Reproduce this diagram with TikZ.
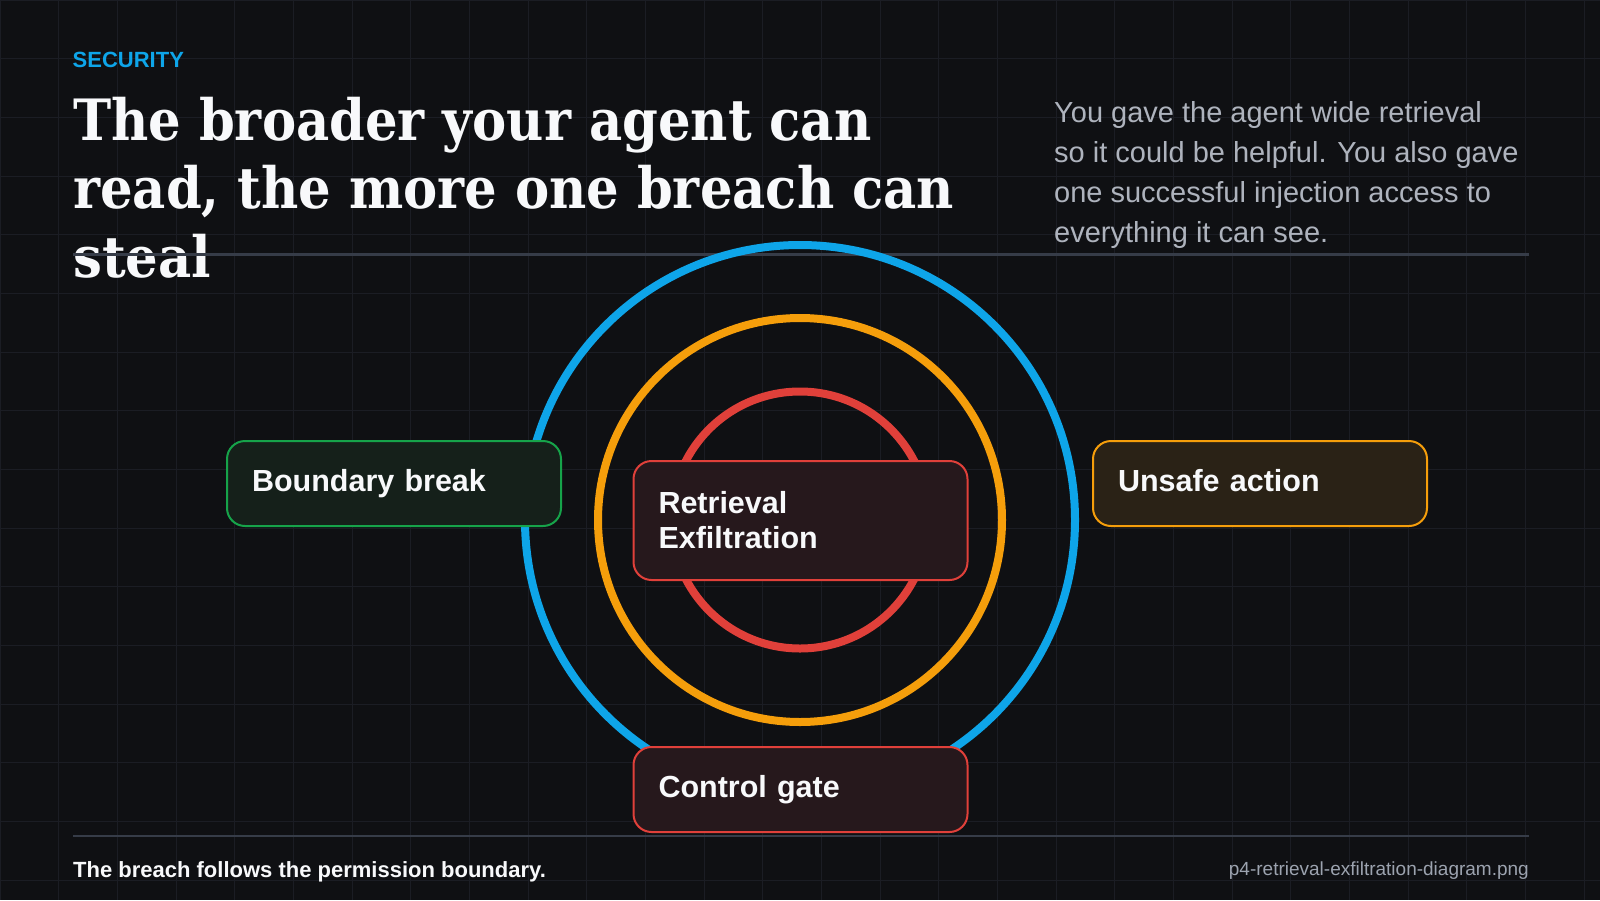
\documentclass[tikz,border=0pt]{standalone}
\usepackage{fontspec}
\setmainfont{Liberation Sans}
\newfontfamily\titlefont[FakeStretch=0.9]{DejaVu Serif}
\usepackage{tikz}
\usetikzlibrary{positioning,calc}

\definecolor{bgdark}{HTML}{0F1013}
\definecolor{gridgray}{HTML}{1B1D24}
\definecolor{rulegray}{HTML}{363C48}
\definecolor{headwhite}{HTML}{F8F9FB}
\definecolor{leadgray}{HTML}{AEB3BD}
\definecolor{notegray}{HTML}{9CA3AF}
\definecolor{skyblue}{HTML}{0EA5E9}
\definecolor{ambr}{HTML}{F59E0B}
\definecolor{alertred}{HTML}{E0403A}
\definecolor{safegreen}{HTML}{16A34A}
\definecolor{greenfill}{HTML}{15201A}
\definecolor{redfill}{HTML}{26181C}
\definecolor{amberfill}{HTML}{2A2216}

\begin{document}
\begin{tikzpicture}[x=1pt, y=-1pt,
    gridline/.style={gridgray, line width=1pt},
    rule/.style={rulegray, line width=2.5pt},
    ring/.style={line width=8pt},
    card/.style={rounded corners=18pt, line width=2pt, minimum width=334pt,
      minimum height=85pt, inner xsep=25pt, inner ysep=4pt, text width=284pt,
      align=left, text depth=6.5pt, text=headwhite,
      font=\bfseries\fontsize{30.5}{34.3}\selectfont}]
    % Background and grid
    \useasboundingbox (0,0) rectangle (1600,900);
    \fill[bgdark] (0,0) rectangle (1600,900);
    \foreach \i in {0,...,27}
        \draw[gridline] ({\i*58.667},0) -- ({\i*58.667},900);
    \foreach \j in {0,...,15}
        \draw[gridline] (0,{\j*58.667}) -- (1600,{\j*58.667});

    % Heading (base = last line)
    \node[anchor=base west, inner sep=0, skyblue, font=\bfseries\fontsize{22}{26}\selectfont]
        (kicker) at (72.5,67) {SECURITY};
    \node[anchor=base west, inner sep=0, align=left, text=headwhite,
        font=\titlefont\bfseries\fontsize{57}{68.7}\selectfont]
        (title) at (73,277.5) {The broader your agent can\\read, the more one breach can\\steal};
    \node[anchor=base west, inner sep=0, align=left, text=leadgray,
        font=\fontsize{29}{40}\selectfont]
        (lead) at (1054,242) {You gave the agent wide retrieval\\so it could be helpful. You also gave\\one successful injection access to\\everything it can see.};

    % Rules
    \draw[rule] (73,254.5) -- (1529,254.5);
    \draw[rule] (73,836) -- (1529,836);

    % Rings
    \coordinate (core) at (800,520);
    \draw[ring, skyblue] (core) circle[radius=275pt];
    \draw[ring, ambr] (core) circle[radius=202pt];
    \draw[ring, alertred] (core) circle[radius=128.5pt];

    % Cards
    \node[card, draw=safegreen, fill=greenfill] (boundary) at (394,483.5) {Boundary break};
    \node[card, draw=ambr, fill=amberfill] (unsafe) at (1260,483.5) {Unsafe action};
    \node[card, draw=alertred, fill=redfill, minimum height=119pt, text depth=35.5pt]
        (exfil) at (800.5,520.5) {Retrieval\\Exfiltration};
    \node[card, draw=alertred, fill=redfill] (gate) at (800.5,789.5) {Control gate};

    % Footer
    \node[anchor=base west, inner sep=0, text=headwhite, font=\bfseries\fontsize{22}{26}\selectfont]
        (caption) at (73,877) {The breach follows the permission boundary.};
    \node[anchor=base east, inner sep=0, text=notegray, font=\fontsize{19}{22}\selectfont]
        (filename) at (1529,875) {p4-retrieval-exfiltration-diagram.png};
\end{tikzpicture}
\end{document}
